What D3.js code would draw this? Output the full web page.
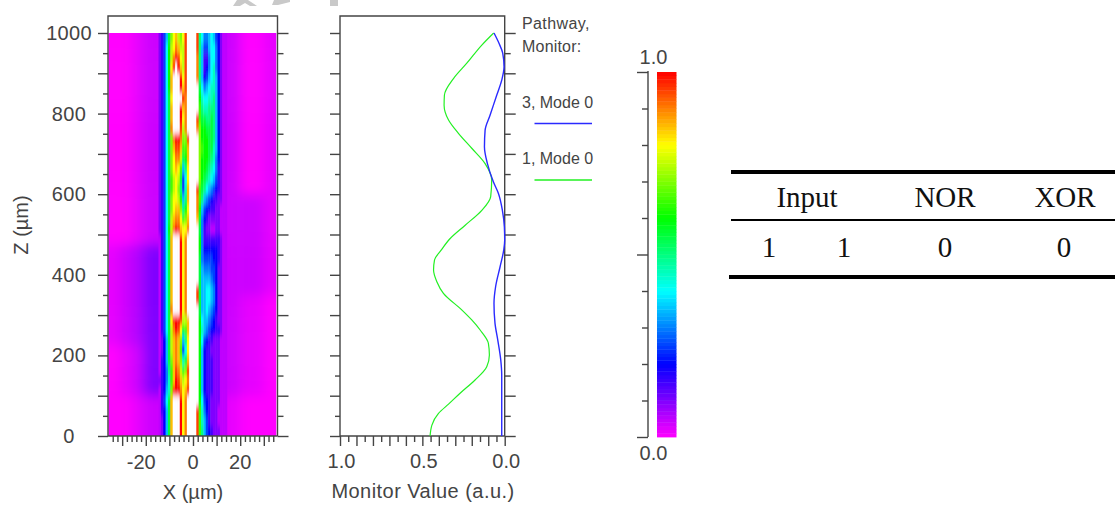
<!DOCTYPE html>
<html>
<head>
<meta charset="utf-8">
<style>
  html, body { margin: 0; padding: 0; background: #fff; }
  svg { display: block; }
  text { font-family: "Liberation Sans", Arial, sans-serif; fill: #444; }
  .tbl text { font-family: "Liberation Serif", "Times New Roman", serif; fill: #111; font-size: 29px; }
</style>
<script src="https://cdn.jsdelivr.net/npm/d3@7"></script>
</head>
<body>
<svg id="fig" width="1115" height="505"></svg>
<script>
// field: one row per 25 um from z=1000 down to z=0.  left|core|right
// core chars are 0..k = 0.00..1.00 in 0.05 steps, "." is over range (white)
// left and right chars are 0..9 = 0.00..0.18 in 0.02 steps
var fieldRows = [
  "0012|2357beghfegj....ja86678754211|2001",
  "0012|2358cfgihffj....ja75578864211|2001",
  "0012|2358cfikjgfj....ia73368864211|2001",
  "0012|2358cgj.khfj....ia73468964211|2001",
  "0012|2358ch...kgj....ia74578974211|2001",
  "0012|2358ch...khj.....b86789974211|2001",
  "0012|2358bg....ki.....c98899a74211|2001",
  "0012|2358bh...khi.....da99aaa74211|2001",
  "0012|2358bh...kgi....jdbbaaba74211|2001",
  "0012|2358bi...jfi....ieccbbba74211|2001",
  "0012|2358beikkieej....ecccbba74211|2001",
  "0012|2358behjjhddh....edccbb974211|2001",
  "0012|2358begiifbch....ecccba964211|2001",
  "0012|2358beghgd7ag....eccba9863211|2001",
  "0012|2358bdfgfb58g....ecba98753211|2001",
  "0012|2358bdfgea59h...jdba876543211|2001",
  "0012|2358beggfc7ah...ida7654332211|2221",
  "0012|2358beghheacg...ic75443322111|2221",
  "0012|2358bfhiigdeh...hb64322222111|2221",
  "0012|2358cfikjhggi....b63221122111|2221",
  "0012|1358bh...kgi.....c63333333211|2221",
  "1235|1358bh...kgi.....c64444443211|2221",
  "1235|1358bh...kgi.....b65555443211|2221",
  "1235|1358bh...kgi.....b76665542211|2221",
  "1235|1358bh...kgi.....b77776542211|2221",
  "1235|1358bh...kgi....jb77887642211|2221",
  "1235|1358bh...kgi....jb77887642211|2110",
  "1235|1358bi...kgi.....b77876542211|2110",
  "1235|1358bgjkkjffh....c87765432211|2110",
  "1235|1358bfikjgcdh....c97654433211|2110",
  "1235|1247bfhihe7ag....c85433222111|2110",
  "0125|1247bfhihd58g....c74332222111|2110",
  "0125|1347behihe9bh....c74333222111|2110",
  "0125|1346adhjifdej....c74333222111|2110",
  "0125|23469dhkjhfgi....c74333222111|2110",
  "0125|13479ejkkighj....c74333222111|2110",
  "0012|1358bh...kgi.....c85432222111|1000",
  "0012|1347bh...kgi....jd96432221111|1000",
  "0012|1247bh...kgi....jd97532221111|1000",
  "0012|1247bh...kgi....jda7543222111|1000"
];
var outerLeftEdges = [-36, -31, -26, -21];
var outerRightEdges = [14.4, 20, 25, 30, 35.8];
var coreStart = -14.6;

var fieldChars = "0123456789abcdefghijk";
var colorStops = [0, 0.2, 0.4, 0.6, 0.8, 1];
var colorNames = ["#ff00ff", "#0000ff", "#00ffff", "#00ff00", "#ffff00", "#ff0000"];

var mode1Z = [1000, 970, 925, 887, 846, 821, 784, 751, 714, 676, 635, 594, 560, 523, 490, 461, 437, 412, 383, 354, 313, 288, 263, 230, 201, 172, 139, 106, 79, 56, 27, 0];
var mode1V = [0.067, 0.139, 0.230, 0.311, 0.366, 0.368, 0.341, 0.281, 0.200, 0.119, 0.079, 0.085, 0.139, 0.240, 0.331, 0.386, 0.426, 0.432, 0.412, 0.372, 0.261, 0.200, 0.149, 0.099, 0.093, 0.109, 0.180, 0.271, 0.341, 0.402, 0.442, 0.453];
var mode3Z = [1000, 974, 950, 916, 883, 846, 796, 759, 718, 676, 631, 602, 560, 519, 486, 461, 420, 371, 329, 280, 238, 189, 151, 0];
var mode3V = [0.065, 0.034, 0.012, 0.004, 0.018, 0.048, 0.089, 0.119, 0.123, 0.105, 0.069, 0.038, 0.014, 0.002, 0, 0.006, 0.028, 0.055, 0.065, 0.059, 0.042, 0.024, 0.018, 0.018];

var zMajor = [0, 100, 200, 300, 400, 500, 600, 700, 800, 900, 1000];
var zMinor = [50, 150, 250, 350, 450, 550, 650, 750, 850, 950];
var zLabels = [0, 200, 400, 600, 800, 1000];
var xMajor = [-30, -20, -10, 0, 10, 20, 30];
var xMinor = [-34, -32, -28, -26, -24, -22, -18, -16, -14, -12, -8, -6, -4, -2, 2, 4, 6, 8, 12, 14, 16, 18, 22, 24, 26, 28, 32, 34];
var xLabels = [-20, 0, 20];
var vMajor = [0, 0.1, 0.2, 0.3, 0.4, 0.5, 0.6, 0.7, 0.8, 0.9, 1];
var vMinor = [0.05, 0.15, 0.25, 0.35, 0.45, 0.55, 0.65, 0.75, 0.85, 0.95];
var vLabels = [0, 0.5, 1];
var barMajor = [0, 0.5, 1];
var barMinor = [0.1, 0.2, 0.3, 0.4, 0.6, 0.7, 0.8, 0.9];

var legendNames = ["3, Mode 0", "1, Mode 0"];
var legendColors = ["#2a2aff", "#22f022"];

var tableHead = ["Input", "NOR", "XOR"];
var tableRow = [1, 1, 0, 0];

var svg = d3.select("#fig");
var axisColor = "#444";

var zScale = d3.scaleLinear().domain([0, 1000]).range([436, 33]);
var zTop = 1042;
var xScale = d3.scaleLinear().domain([-36, 35.8]).range([108, 277.5]);
var vScale = d3.scaleLinear().domain([1, 0]).range([340, 504.7]);
var barScale = d3.scaleLinear().domain([0, 1]).range([437, 72]);
var color = d3.scaleLinear().domain(colorStops).range(colorNames);

// ---- watermark scraps at the top edge
svg.append("g").attr("fill", "#c9c9c9").selectAll("path")
  .data(["M233,6L237,0H248L257,6H250L245,3L240,6Z", "M272,5L274,0H290V2L278,5Z", "M330,0H338V6H330Z"])
  .join("path").attr("d", function (d) { return d; });

// ---- field
var defs = svg.append("defs");
[["softCore", "0.7 3"], ["softOuter", "6 6"]].forEach(function (f) {
  defs.append("filter").attr("id", f[0])
    .attr("filterUnits", "userSpaceOnUse")
    .attr("x", 60).attr("y", 0).attr("width", 270).attr("height", 480)
    .append("feGaussianBlur").attr("stdDeviation", f[1]);
});
defs.append("clipPath").attr("id", "fieldClip").append("rect")
  .attr("x", xScale(-36) + 0.5).attr("y", zScale(1000))
  .attr("width", xScale(35.3) - xScale(-36) - 0.5).attr("height", zScale(0) - zScale(1000));

var coreLen = fieldRows[0].split("|")[1].length;
var coreEdges = d3.range(coreLen).map(function (i) { return coreStart + i * (outerRightEdges[0] - coreStart) / coreLen; });
var colEdges = outerLeftEdges.concat(coreEdges, outerRightEdges);
var nLeft = outerLeftEdges.length;

var coreCells = [], outerCells = [];
fieldRows.forEach(function (row, r) {
  var chars = row.replace(/\|/g, "");
  for (var c = 0; c < chars.length; c++) {
    var isCore = c >= nLeft && c < nLeft + coreLen;
    var v = chars[c] === "." ? null : fieldChars.indexOf(chars[c]) / (isCore ? 20 : 50);
    var cell = {
      // edge rows run past the clip so the blur has no edge
      x0: colEdges[c],
      x1: colEdges[c + 1],
      z0: r === 0 ? 1040 : 1000 - r * 25,
      z1: r === fieldRows.length - 1 ? -40 : 1000 - (r + 1) * 25,
      v: v
    };
    if (isCore) {
      coreCells.push(cell);
    } else {
      // the soft layer runs on under the core and out past the frame
      if (c === 0) cell.x0 -= 20;
      if (c === nLeft - 1) cell.x1 += 6;
      if (c === nLeft + coreLen) cell.x0 -= 6;
      if (c === chars.length - 1) cell.x1 += 20;
      outerCells.push(cell);
    }
  }
});

function drawCells(cells, filterId) {
  fieldG.append("g").attr("filter", "url(#" + filterId + ")")
    .selectAll("rect").data(cells).join("rect")
    .attr("x", function (d) { return xScale(d.x0); })
    .attr("y", function (d) { return zScale(d.z0); })
    .attr("width", function (d) { return xScale(d.x1) - xScale(d.x0) + 0.3; })
    .attr("height", function (d) { return zScale(d.z1) - zScale(d.z0) + 0.3; })
    .attr("fill", function (d) { return d.v === null ? "#fff" : color(d.v); });
}
var fieldG = svg.append("g").attr("clip-path", "url(#fieldClip)");
drawCells(outerCells, "softOuter");
drawCells(coreCells, "softCore");

// draw one axis, strip the domain and restyle the ticks
function drawAxis(axis, tx, ty) {
  var g = svg.append("g").attr("transform", "translate(" + tx + "," + ty + ")").call(axis);
  g.select(".domain").remove();
  g.selectAll("line").attr("stroke", axisColor).attr("stroke-width", 1.4);
  g.selectAll("text").remove();
  return g;
}

function yAxes(leftX, rightX) {
  drawAxis(d3.axisLeft(zScale).tickValues(zMajor).tickSize(10).tickFormat(""), leftX, 0);
  drawAxis(d3.axisLeft(zScale).tickValues(zMinor).tickSize(5).tickFormat(""), leftX, 0);
  drawAxis(d3.axisRight(zScale).tickValues(zMajor).tickSize(11).tickFormat(""), rightX, 0);
  drawAxis(d3.axisRight(zScale).tickValues(zMinor).tickSize(6).tickFormat(""), rightX, 0);
}

function frame(x0, x1) {
  svg.append("path")
    .attr("d", "M" + x0 + "," + zScale(0) + "V" + zScale(zTop) + "H" + x1 + "V" + zScale(0))
    .attr("fill", "none").attr("stroke", axisColor).attr("stroke-width", 1.4);
  svg.append("line").attr("x1", x0).attr("x2", x1).attr("y1", zScale(0)).attr("y2", zScale(0))
    .attr("stroke", axisColor).attr("stroke-width", 1.4);
}

// ---- left plot
frame(xScale(-36), xScale(35.8));
yAxes(xScale(-36), xScale(35.8));
drawAxis(d3.axisBottom(xScale).tickValues(xMajor).tickSize(10).tickFormat(""), 0, zScale(0));
drawAxis(d3.axisBottom(xScale).tickValues(xMinor).tickSize(6).tickFormat(""), 0, zScale(0));

svg.append("g").selectAll("text").data(zLabels).join("text")
  .attr("x", 69).attr("y", function (d) { return zScale(d) + 7; })
  .attr("text-anchor", "middle").attr("font-size", 20).attr("letter-spacing", 0.3)
  .text(function (d) { return d; });
svg.append("g").selectAll("text").data(xLabels).join("text")
  .attr("x", function (d) { return xScale(d) + (d < 0 ? -4.5 : 0); }).attr("y", 469)
  .attr("text-anchor", "middle").attr("font-size", 20)
  .text(function (d) { return d; });
svg.append("text").attr("x", 193).attr("y", 499).attr("text-anchor", "middle")
  .attr("font-size", 20).text("X (\u00b5m)");
svg.append("text").attr("transform", "translate(28,225) rotate(-90)").attr("text-anchor", "middle")
  .attr("font-size", 20).text("Z (\u00b5m)");

// ---- monitor plot
frame(vScale(1), vScale(0));
yAxes(vScale(1), vScale(0));
drawAxis(d3.axisBottom(vScale).tickValues(vMajor).tickSize(10).tickFormat(""), 0, zScale(0));
drawAxis(d3.axisBottom(vScale).tickValues(vMinor).tickSize(6).tickFormat(""), 0, zScale(0));

var curve = d3.line()
  .x(function (d) { return vScale(d[0]); })
  .y(function (d) { return zScale(d[1]); })
  .curve(d3.curveMonotoneY);
svg.append("path").datum(d3.zip(mode1V, mode1Z)).attr("d", curve)
  .attr("fill", "none").attr("stroke", legendColors[1]).attr("stroke-width", 1.2);
svg.append("path").datum(d3.zip(mode3V, mode3Z)).attr("d", curve)
  .attr("fill", "none").attr("stroke", legendColors[0]).attr("stroke-width", 1.4);

svg.append("g").selectAll("text").data(vLabels).join("text")
  .attr("x", function (d) { return vScale(d) + 1.5; }).attr("y", 468)
  .attr("text-anchor", "middle").attr("font-size", 20)
  .text(function (d) { return d3.format(".1f")(d); });
svg.append("text").attr("x", 423).attr("y", 498).attr("text-anchor", "middle")
  .attr("font-size", 20).attr("letter-spacing", 0.45).text("Monitor Value (a.u.)");

// legend
svg.append("text").attr("x", 522).attr("y", 29).attr("font-size", 16).attr("letter-spacing", 0.4).text("Pathway,");
svg.append("text").attr("x", 522).attr("y", 52).attr("font-size", 16).attr("letter-spacing", 0.2).text("Monitor:");
legendNames.forEach(function (name, i) {
  svg.append("text").attr("x", 522).attr("y", 108 + i * 56).attr("font-size", 16).text(name);
  svg.append("line").attr("x1", 534.5).attr("x2", 592).attr("y1", 123.5 + i * 56.5).attr("y2", 123.5 + i * 56.5)
    .attr("stroke", legendColors[i]).attr("stroke-width", 1.4);
});

// ---- colour bar
var barSteps = d3.range(0, 1, 0.01);
svg.append("g").selectAll("rect").data(barSteps).join("rect")
  .attr("x", 657).attr("width", 19.5)
  .attr("y", function (d) { return barScale(d + 0.01); })
  .attr("height", function (d) { return barScale(d) - barScale(d + 0.01) + 0.4; })
  .attr("fill", function (d) { return color(d + 0.005); });
drawAxis(d3.axisLeft(barScale).tickValues(barMajor).tickSize(11).tickFormat(""), 648, 0);
drawAxis(d3.axisLeft(barScale).tickValues(barMinor).tickSize(6).tickFormat(""), 648, 0);
svg.append("line").attr("x1", 648).attr("x2", 648).attr("y1", barScale(1) - 1).attr("y2", barScale(0))
  .attr("stroke", axisColor).attr("stroke-width", 1.4);
svg.append("g").selectAll("text").data([1, 0]).join("text")
  .attr("x", 653.5).attr("y", function (d) { return d ? 64 : 460; })
  .attr("text-anchor", "middle").attr("font-size", 20)
  .text(function (d) { return d3.format(".1f")(d); });

// ---- table
var tbl = svg.append("g").attr("class", "tbl");
[[731, 172, 4], [731, 220, 2], [729, 277, 4]].forEach(function (r) {
  tbl.append("line").attr("x1", r[0]).attr("x2", 1115).attr("y1", r[1]).attr("y2", r[1])
    .attr("stroke", "#000").attr("stroke-width", r[2]);
});
var headX = [807, 945, 1065];
var rowX = [769, 844, 945, 1064];
tbl.selectAll("text.h").data(tableHead).join("text").attr("class", "h")
  .attr("x", function (d, i) { return headX[i]; }).attr("y", 207).attr("text-anchor", "middle")
  .text(function (d) { return d; });
tbl.selectAll("text.r").data(tableRow).join("text").attr("class", "r")
  .attr("x", function (d, i) { return rowX[i]; }).attr("y", 257).attr("text-anchor", "middle")
  .text(function (d) { return d; });
</script>
</body>
</html>
